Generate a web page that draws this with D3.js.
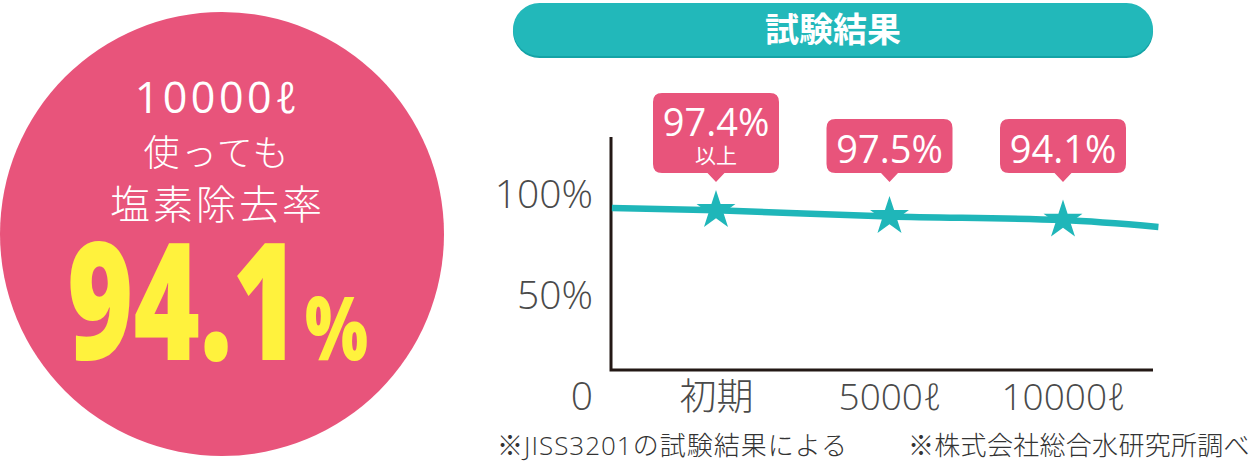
<!DOCTYPE html>
<html>
<head>
<meta charset="utf-8">
<script src="https://cdn.jsdelivr.net/npm/d3@7"></script>
<style>
  body { margin: 0; background: #fff; }
  text { font-family: "Open Sans", "Noto Sans CJK JP", sans-serif; }
</style>
</head>
<body>
<div id="chart"></div>
<script>
// values
var stages = ["初期", "5000ℓ", "10000ℓ"];
var results = ["97.4%", "97.5%", "94.1%"];
var resultNotes = ["以上", "", ""];
var starLevels = [92.4, 89.4, 87.6];          // where the stars sit on the % axis
var lineSteps = [-0.6, 0, 1, 2, 2.55];         // trend line, in stage units
var lineLevels = [93.6, 92.4, 89.4, 87.6, 84.2];
var yTicks = [0, 50, 100];
var circleLines = ["10000ℓ", "使っても", "塩素除去率"];
var headline = "94.1";
var footnotes = ["※JISS3201の試験結果による", "※株式会社総合水研究所調べ"];

var svgWidth = 1258;
var svgHeight = 463;

var pink = "#e8547b";
var teal = "#22b8ba";
var ink = "#231815";
var labelFont = "'Open Sans', 'Noto Sans CJK JP', sans-serif";

var svg = d3.select("#chart")
  .append("svg")
  .attr("width", svgWidth)
  .attr("height", svgHeight);

// ---- left: big circle ----
var circleGroup = svg.append("g");

circleGroup.append("circle")
  .attr("cx", 222)
  .attr("cy", 234)
  .attr("r", 222)
  .attr("fill", pink);

var circleText = [
  { y: 113, size: 43, spacing: 3.5, weight: 400 },
  { y: 166, size: 36, spacing: 1.5, weight: 300 },
  { y: 219, size: 40, spacing: 3, weight: 300 }
];

circleGroup.selectAll(".cline")
  .data(circleLines)
  .enter()
  .append("text")
  .attr("class", "cline")
  .attr("x", (d, i) => 216 + circleText[i].spacing / 2)
  .attr("y", (d, i) => circleText[i].y)
  .attr("text-anchor", "middle")
  .attr("fill", "#fff")
  .attr("font-weight", (d, i) => circleText[i].weight)
  .attr("font-size", (d, i) => circleText[i].size)
  .attr("letter-spacing", (d, i) => circleText[i].spacing)
  .text(d => d);

circleGroup.append("text")
  .attr("x", 67)
  .attr("y", 360)
  .attr("fill", "#fff23d")
  .attr("font-family", "Roboto, 'Liberation Sans', sans-serif")
  .attr("font-weight", 900)
  .attr("font-size", 164)
  .attr("textLength", 232)
  .attr("lengthAdjust", "spacingAndGlyphs")
  .text(headline);

circleGroup.append("text")
  .attr("x", 305)
  .attr("y", 360)
  .attr("fill", "#fff23d")
  .attr("font-family", "Roboto, 'Liberation Sans', sans-serif")
  .attr("font-weight", 900)
  .attr("font-size", 88)
  .attr("textLength", 63)
  .attr("lengthAdjust", "spacingAndGlyphs")
  .text("%");

// ---- title pill ----
svg.append("rect")
  .attr("x", 513).attr("y", 5)
  .attr("width", 640).attr("height", 53)
  .attr("rx", 26.5)
  .attr("fill", "#14a3a6");

svg.append("rect")
  .attr("x", 513).attr("y", 3)
  .attr("width", 640).attr("height", 53)
  .attr("rx", 26.5)
  .attr("fill", teal);

svg.append("text")
  .attr("x", 833)
  .attr("y", 42)
  .attr("text-anchor", "middle")
  .attr("fill", "#fff")
  .attr("font-family", "'Noto Sans CJK JP', sans-serif")
  .attr("font-weight", 700)
  .attr("font-size", 34)
  .text("試験結果");

// ---- chart ----
var axisLeftX = 611;
var axisRightX = 1153;
var axisTopY = 137;
var axisBottomY = 370;

var x = d3.scaleLinear()
  .domain([0, 2])
  .range([716, 1063]);

var y = d3.scaleLinear()
  .domain([0, 100])
  .range([397, 195]);

var chartGroup = svg.append("g");

// y tick labels (frame drawn separately, the 0 label sits below it)
var leftAxis = d3.axisLeft(y)
  .tickValues(yTicks)
  .tickSize(0)
  .tickPadding(18)
  .tickFormat(d => d === 0 ? "0" : d + "%");

var yAxisG = chartGroup.append("g")
  .attr("transform", `translate(${axisLeftX}, 0)`)
  .call(leftAxis);
yAxisG.select(".domain").remove();
yAxisG.selectAll("text")
  .attr("font-family", labelFont)
  .attr("font-size", 39)
  .attr("font-weight", 300)
  .attr("fill", "#4a4a4a");

var bottomAxis = d3.axisBottom(x)
  .tickValues([0, 1, 2])
  .tickSize(0)
  .tickPadding(14)
  .tickFormat(d => stages[d]);

var xAxisG = chartGroup.append("g")
  .attr("transform", `translate(0, ${axisBottomY})`)
  .call(bottomAxis);
xAxisG.select(".domain").remove();
xAxisG.selectAll("text")
  .attr("font-family", labelFont)
  .attr("font-size", 37)
  .attr("font-weight", 300)
  .attr("fill", "#4a4a4a");

// frame
chartGroup.append("path")
  .attr("d", `M${axisLeftX},${axisTopY} V${axisBottomY} H${axisRightX}`)
  .attr("fill", "none")
  .attr("stroke", ink)
  .attr("stroke-width", 3);

// trend line
var lineData = lineSteps.map((s, i) => [s, lineLevels[i]]);
var trend = d3.line()
  .x(d => x(d[0]))
  .y(d => y(d[1]))
  .curve(d3.curveMonotoneX);

chartGroup.append("path")
  .datum(lineData)
  .attr("d", trend)
  .attr("fill", "none")
  .attr("stroke", "#1fb6b9")
  .attr("stroke-width", 6.5);

// stars
var star = d3.symbol().type(d3.symbolStar).size(470);
chartGroup.selectAll(".star")
  .data(starLevels)
  .enter()
  .append("path")
  .attr("class", "star")
  .attr("d", star)
  .attr("transform", (d, i) => `translate(${x(i)}, ${y(d)})`)
  .attr("fill", "#1fb6b9");

// callouts
function bubble(w, h, r, pw, ph) {
  var l = -w / 2, rt = w / 2, b = -ph, t = -ph - h;
  return `M0,0 L${-pw / 2},${b} L${l + r},${b} Q${l},${b} ${l},${b - r} ` +
    `L${l},${t + r} Q${l},${t} ${l + r},${t} L${rt - r},${t} Q${rt},${t} ${rt},${t + r} ` +
    `L${rt},${b - r} Q${rt},${b} ${rt - r},${b} L${pw / 2},${b} Z`;
}

var tipY = 182;
var callouts = chartGroup.selectAll(".callout")
  .data(results)
  .enter()
  .append("g")
  .attr("class", "callout")
  .attr("transform", (d, i) => `translate(${x(i)}, ${tipY})`);

callouts.append("path")
  .attr("d", (d, i) => bubble(126, resultNotes[i] ? 80 : 54, 9, 17, 9))
  .attr("fill", pink);

callouts.append("text")
  .attr("y", (d, i) => resultNotes[i] ? -46 : -19)
  .attr("text-anchor", "middle")
  .attr("fill", "#fff")
  .attr("font-size", 38)
  .attr("font-weight", 400)
  .text(d => d);

callouts.filter((d, i) => resultNotes[i])
  .append("text")
  .attr("y", -19)
  .attr("text-anchor", "middle")
  .attr("fill", "#fff")
  .attr("font-family", "'Noto Sans CJK JP', sans-serif")
  .attr("font-size", 21)
  .attr("font-weight", 400)
  .text(resultNotes[0]);

// footnotes
svg.selectAll(".note")
  .data(footnotes)
  .enter()
  .append("text")
  .attr("class", "note")
  .attr("x", (d, i) => i === 0 ? 497 : 908)
  .attr("y", 455)
  .attr("fill", "#333")
  .attr("font-size", 26)
  .attr("font-weight", 300)
  .attr("letter-spacing", (d, i) => i === 0 ? 1 : 0.3)
  .text(d => d);
</script>
</body>
</html>
